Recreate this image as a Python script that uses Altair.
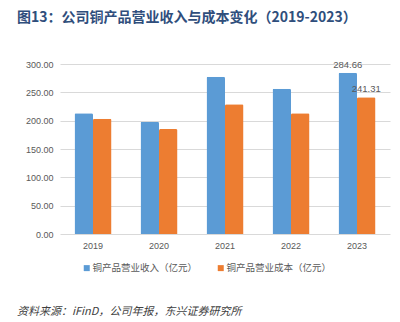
import altair as alt
import pandas as pd

years = ["2019", "2020", "2021", "2022", "2023"]
revenue = [212.9, 198.2, 277.6, 256.5, 284.66]
cost = [203.5, 185.3, 228.8, 212.9, 241.31]
rev_labels = ["", "", "", "", "284.66"]
cost_labels = ["", "", "", "", "241.31"]
series = ["铜产品营业收入（亿元）", "铜产品营业成本（亿元）"]
y_ticks = [0, 50, 100, 150, 200, 250, 300]
title_text = "图13：公司铜产品营业收入与成本变化（2019-2023）"
source_text = "资料来源：iFinD，公司年报，东兴证券研究所"

rows = []
for i, y in enumerate(years):
    rows.append({"year": y, "series": series[0], "value": revenue[i], "label": rev_labels[i]})
    rows.append({"year": y, "series": series[1], "value": cost[i], "label": cost_labels[i]})
df = pd.DataFrame(rows)

CJK = "Noto Sans CJK SC"
NUM = "Liberation Sans"

x_enc = alt.X(
    "year:N",
    sort=years,
    scale=alt.Scale(paddingInner=0.44, paddingOuter=0.22),
    axis=alt.Axis(
        title=None, labelAngle=0, ticks=False, domain=False,
        grid=False, labelColor="#595959", labelFont=NUM, labelFontSize=9, labelPadding=7,
    ),
)
y_enc = alt.Y(
    "value:Q",
    scale=alt.Scale(domain=[0, 300], nice=False),
    axis=alt.Axis(
        title=None, values=y_ticks, format=".2f", ticks=False, domain=False,
        gridColor="#D9D9D9", gridWidth=1, labelColor="#595959", labelFont=NUM,
        labelFontSize=9, labelPadding=7, labelOverlap=False,
    ),
)
color_enc = alt.Color(
    "series:N",
    sort=series,
    scale=alt.Scale(domain=series, range=["#5B9BD5", "#ED7D31"]),
    legend=alt.Legend(
        title=None, orient="none", legendX=22, legendY=199, direction="horizontal",
        symbolType="square", symbolSize=36, symbolStrokeWidth=0, labelFont=CJK,
        labelFontSize=9.5, labelColor="#595959", labelOffset=1, columnPadding=18,
    ),
)

base = alt.Chart(df).encode(
    x=x_enc,
    xOffset=alt.XOffset("series:N", sort=series),
    y=y_enc,
)

bars = base.mark_bar(cornerRadiusTopLeft=1.5, cornerRadiusTopRight=1.5).encode(
    color=color_enc
)

labels = base.transform_filter(alt.datum.label != "").mark_text(
    baseline="bottom", dy=-3, font=NUM, fontSize=9.5, color="#595959"
).encode(text="label:N")

title_df = pd.DataFrame({"t": [title_text]})
title = alt.Chart(title_df).mark_text(
    align="left", baseline="middle", font=CJK, fontSize=14, fontWeight="bold", color="#2F4E7C"
).encode(x=alt.value(-43), y=alt.value(-46), text="t:N")

src_df = pd.DataFrame({"t": [source_text]})
source = alt.Chart(src_df).mark_text(
    align="left", baseline="middle", font=CJK, fontSize=11, fontStyle="italic", color="#404040"
).encode(x=alt.value(-43), y=alt.value(248), text="t:N")

chart = (
    alt.layer(bars, labels, title, source)
    .properties(
        width=330, height=170,
        background="white",
        autosize=alt.AutoSizeParams(type="none"),
        padding={"left": 60, "top": 64, "right": 10, "bottom": 88},
    )
    .configure_view(stroke=None, strokeWidth=0)
    .configure_axis(domain=False)
    .configure_axisX(grid=False)
)

chart.save("out.html", embed_options={"renderer": "svg", "actions": False})
